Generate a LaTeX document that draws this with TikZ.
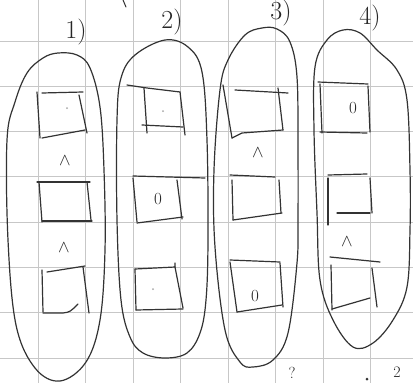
\documentclass[tikz,border=0pt]{standalone}
\begin{document}
\begin{tikzpicture}[x=1pt,y=-1pt,
  ink/.style={draw=black!80, line width=1.2pt, line cap=round, line join=round},
  gridline/.style={draw=black!22, line width=0.9pt},
  lbl/.style={text=black!85, font=\fontsize{26}{26}\selectfont, inner sep=0pt},
  small/.style={text=black!85, font=\fontsize{16}{16}\selectfont, inner sep=0pt},
  zero/.style={text=black!85, font=\fontsize{17}{17}\selectfont, inner sep=0pt},
  andsym/.style={text=black!85, font=\fontsize{18}{18}\selectfont, inner sep=0pt},
  dotmark/.style={fill=black!35, draw=none}]
\useasboundingbox (0,0) rectangle (413,383);
\fill[white] (0,0) rectangle (413,383);
\begin{scope}
\clip (0,0) rectangle (413,383);
% grid paper
\foreach \x in {38,85.5,133,180.5,228,275.5,323,370.5}
  \draw[gridline] (\x,0) -- (\x,383);
\foreach \y in {41,86.3,131.6,176.9,222.2,267.5,312.8,358.1}
  \draw[gridline] (0,\y) -- (413,\y);

% loops
\draw[ink] plot[smooth cycle, tension=0.6] coordinates {(58,53) (77,55) (90,68) (100,107) (104,170) (105,250) (100,320) (86,362) (60,381) (35,368) (16,325) (8,240) (7,140) (15,102) (27,73) (43,58)};
\draw[ink] plot[smooth cycle, tension=0.6] coordinates {(165,40) (188,47) (202,72) (207,140) (208,240) (206,300) (200,333) (187,353) (165,358) (143,353) (130,337) (121,300) (117,220) (117,120) (121,78) (135,55)};
\draw[ink] plot[smooth cycle, tension=0.6] coordinates {(262,28) (277,29) (290,42) (297,77) (298,150) (298,220) (297,263) (288,333) (273,360) (253,367) (240,362) (225,330) (215,247) (214,170) (220,90) (228,60) (245,35)};
\draw[ink] plot[smooth cycle, tension=0.6] coordinates {(343,30) (360,33) (377,50) (397,70) (407,100) (410,170) (410,230) (407,287) (393,320) (373,343) (353,347) (333,320) (320,280) (317,213) (314,130) (315,67) (327,40)};

% column 1
\draw[ink] (42,93) -- (83,92);
\draw[ink] (37,92) -- (40,138);
\draw[ink] (79,95) -- (87,133);
\draw[ink] (42,138) -- (85,130);
\fill[dotmark] (67,108) circle (1pt);
\node[andsym] (a1) at (65,161) {$\wedge$};
\draw[ink] (37,182) -- (90,182);
\draw[ink] (39,182) -- (42,222);
\draw[ink] (87,182) -- (91,220);
\draw[ink] (42,221) -- (92,221);
\node[andsym] (a2) at (64,248) {$\wedge$};
\draw[ink] (47,272) -- (85,266);
\draw[ink] (42,270) -- (43,312);
\draw[ink] (83,267) -- (89,313);
\draw[ink] (43,313) -- (63,313) .. controls (70,312) .. (78,304);

% column 2
\draw[ink] (127,85) -- (147,88) -- (180,92);
\draw[ink] (144,88) -- (147,133);
\draw[ink] (180,92) -- (185,135);
\draw[ink] (142,125) -- (183,127);
\fill[dotmark] (163,111) circle (1pt);
\draw[ink] (133,176) -- (205,178);
\draw[ink] (133,178) -- (137,222);
\draw[ink] (177,180) -- (182,219);
\draw[ink] (137,223) -- (183,217);
\node[zero] (z2) at (158,199) {0};
\draw[ink] (135,269) -- (175,267) -- (175,263);
\draw[ink] (135,269) -- (136,310);
\draw[ink] (175,267) -- (183,308);
\draw[ink] (136,310) -- (183,309);
\fill[dotmark] (153,289) circle (1pt);

% column 3
\draw[ink] (235,90) -- (288,93);
\draw[ink] (223,85) -- (232,138);
\draw[ink] (278,88) -- (283,130);
\draw[ink] (232,138) -- (242,133) -- (283,130);
\node[andsym] (a3) at (258,153) {$\wedge$};
\draw[ink] (230,175) -- (275,177);
\draw[ink] (232,180) -- (233,220);
\draw[ink] (279,180) -- (281,213);
\draw[ink] (233,220) -- (282,213);
\draw[ink] (230,260) -- (280,262);
\draw[ink] (230,262) -- (237,312);
\draw[ink] (280,263) -- (283,307);
\draw[ink] (237,312) -- (282,305);
\node[zero] (z3) at (255,296) {0};

% column 4
\draw[ink] (318,82) -- (368,84);
\draw[ink] (320,84) -- (322,133);
\draw[ink] (368,86) -- (370,132);
\draw[ink] (320,132) -- (367,133);
\node[zero] (z4) at (353,108) {0};
\draw[ink] (328,175) -- (367,174);
\draw[ink] (328,178) -- (328,225);
\draw[ink] (370,178) -- (372,213);
\draw[ink] (337,213) -- (370,213);
\node[andsym] (a4) at (347,242) {$\wedge$};
\draw[ink] (330,257) -- (380,262);
\draw[ink] (331,265) -- (332,310);
\draw[ink] (372,268) -- (377,307);
\draw[ink] (332,309) -- (370,298);

% labels
\node[lbl] (l1) at (76,32) {1)};
\node[lbl] (l2) at (172,22) {2)};
\node[lbl] (l3) at (281,13) {3)};
\node[lbl] (l4) at (370,18) {4)};

% fragments near the edges
\draw[ink, line width=1pt] (123,0) -- (126,7);
\node[small] (f1) at (292,373) {?};
\node[small] (f2) at (397,372) {2};
\fill[black!80] (367,379) circle (1.5pt);
\end{scope}
\end{tikzpicture}
\end{document}
